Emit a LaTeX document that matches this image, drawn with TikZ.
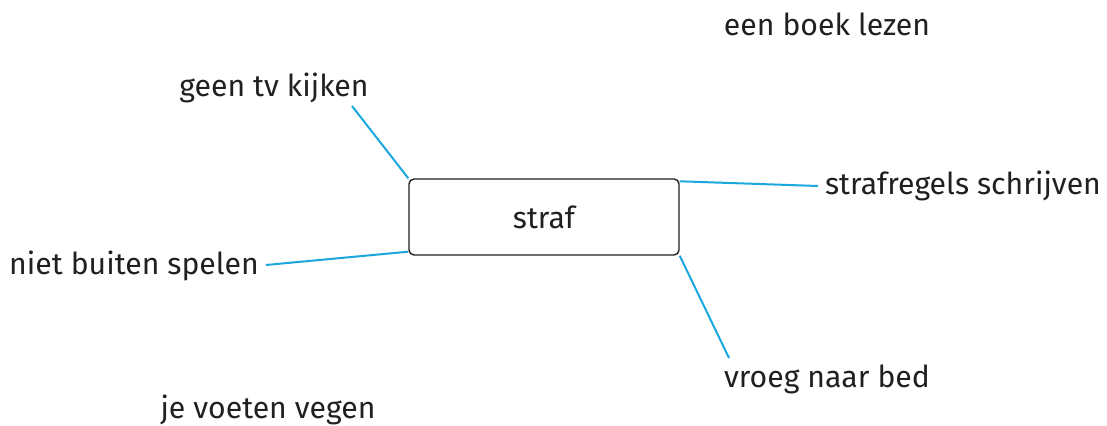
\documentclass[tikz,border=0pt]{standalone}
\usepackage{fontspec}
\setmainfont{Fira Sans}
\usetikzlibrary{positioning}

\definecolor{linkblue}{HTML}{1AA7E0}
\definecolor{inkgray}{HTML}{231F20}

\begin{document}
\begin{tikzpicture}[
    x=0.5pt, y=-0.5pt,
    every node/.style={font=\fontsize{15.1}{18}\selectfont, text=inkgray},
    word/.style={inner sep=0pt},
    centerbox/.style={draw=inkgray, line width=0.7pt, rounded corners=2.5pt,
        minimum width=135pt, minimum height=38pt, inner sep=0pt},
    link/.style={draw=linkblue, line width=1pt}
]
\useasboundingbox (0,0) rectangle (1107,426);

% --- centre ---
\node[centerbox] (straf) at (544,217) {straf};

% --- words round it ---
\node[word] (boek) at (827,24) {een boek lezen};
\node[word] (tv) at (274,88) {geen tv kijken};
\node[word] (regels) at (963,186) {strafregels schrijven};
\node[word] (buiten) at (134,266) {niet buiten spelen};
\node[word] (bed) at (827,379) {vroeg naar bed};
\node[word] (voeten) at (268,410) {je voeten vegen};

% free ends of the links
\coordinate (tvend) at (352,106);
\coordinate (regelsend) at (818,186);
\coordinate (buitenend) at (266,265);
\coordinate (bedend) at (729,358);

% --- links ---
\draw[link] (tvend) -- (straf.north west);
\draw[link] (straf.north east) ++(0,3) -- (regelsend);
\draw[link] (buitenend) -- ([yshift=2pt]straf.south west);
\draw[link] (straf.south east) -- (bedend);

\end{tikzpicture}
\end{document}
